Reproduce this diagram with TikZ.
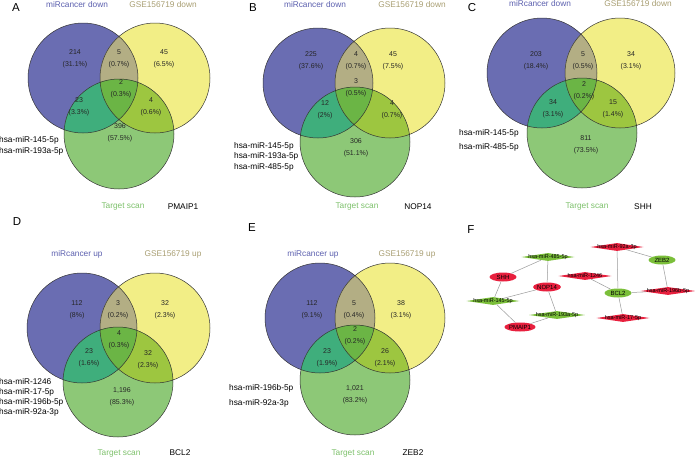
\documentclass[tikz,border=0pt]{standalone}
\usepackage{fontspec}
\setmainfont{Liberation Sans}
\usetikzlibrary{shapes.geometric}

\definecolor{vblue}{HTML}{6A6DB2}
\definecolor{vyellow}{HTML}{F2EE86}
\definecolor{vgreen}{HTML}{8DC877}
\definecolor{vby}{HTML}{B3AE84}
\definecolor{vbg}{HTML}{3FAE7C}
\definecolor{vyg}{HTML}{9DC640}
\definecolor{vall}{HTML}{6BB545}
\definecolor{tblue}{HTML}{5B5FAE}
\definecolor{ttan}{HTML}{A89E72}
\definecolor{tgreen}{HTML}{7CC06A}
\definecolor{netred}{HTML}{E8203E}
\definecolor{netgreen}{HTML}{7BBF3A}

\tikzset{
  ring/.style={draw=black!80,line width=0.5pt},
  setlbl/.style={font=\fontsize{8.3}{10}\selectfont,inner sep=0pt},
  cnt/.style={font=\fontsize{7}{11.5}\selectfont,align=center,text=black!85,inner sep=0pt},
  mirlist/.style={anchor=west,align=left,inner sep=0pt},
  panel/.style={font=\fontsize{11.5}{12}\selectfont,inner sep=0pt},
  netlbl/.style={font=\fontsize{5.5}{6}\selectfont,inner sep=0pt,text=black},
  mirred/.style={diamond,fill=netred,minimum width=53pt,minimum height=8pt,inner sep=0pt},
  mirgreen/.style={diamond,fill=netgreen,minimum width=53pt,minimum height=8pt,inner sep=0pt},
  genered/.style={ellipse,fill=netred,minimum width=27pt,minimum height=9pt,inner sep=0pt,font=\fontsize{6}{6}\selectfont},
  genegreen/.style={ellipse,fill=netgreen,minimum width=27pt,minimum height=9pt,inner sep=0pt,font=\fontsize{6}{6}\selectfont},
  netedge/.style={draw=black!40,line width=0.5pt}
}

% three circles: blue, yellow, green centres
\newcommand{\venntri}[3]{%
  \fill[vblue] (#1) circle (55pt);
  \fill[vyellow] (#2) circle (55pt);
  \fill[vgreen] (#3) circle (55pt);
  \begin{scope}\clip (#1) circle (55pt); \fill[vby] (#2) circle (55pt); \end{scope}
  \begin{scope}\clip (#1) circle (55pt); \fill[vbg] (#3) circle (55pt); \end{scope}
  \begin{scope}\clip (#2) circle (55pt); \fill[vyg] (#3) circle (55pt); \end{scope}
  \begin{scope}\clip (#1) circle (55pt); \clip (#2) circle (55pt); \fill[vall] (#3) circle (55pt); \end{scope}
  \draw[ring] (#1) circle (55pt) (#2) circle (55pt) (#3) circle (55pt);
}

\begin{document}
\begin{tikzpicture}[x=1pt,y=-1pt]
\useasboundingbox (0,0) rectangle (695,458);

% A
\venntri{83,78}{155,78}{119,134}
\node[panel] (pa) at (16,8) {A};
\node[setlbl,text=tblue] (a-set1) at (77,5) {miRcancer down};
\node[setlbl,text=ttan] (a-set2) at (163,5) {GSE156719 down};
\node[setlbl,text=tgreen] (a-set3) at (123,207) {Target scan};
\node[setlbl] (a-gene) at (183,207) {PMAIP1};
\node[cnt] (a1) at (75,59) {214\\(31.1\%)};
\node[cnt] (a2) at (119,59) {5\\(0.7\%)};
\node[cnt] (a3) at (164,59) {45\\(6.5\%)};
\node[cnt] (a4) at (121,89) {2\\(0.3\%)};
\node[cnt] (a5) at (79,107) {23\\(3.3\%)};
\node[cnt] (a6) at (151,107) {4\\(0.6\%)};
\node[cnt] (a7) at (120,133) {396\\(57.5\%)};
\node[mirlist,font=\fontsize{8.3}{11}\selectfont] (a-mir) at (-1,145.5) {hsa-miR-145-5p\\hsa-miR-193a-5p};

% B
\venntri{318,83}{390,83}{355,142}
\node[panel] (pb) at (253,8) {B};
\node[setlbl,text=tblue] (b-set1) at (315,5) {miRcancer down};
\node[setlbl,text=ttan] (b-set2) at (412,5) {GSE156719 down};
\node[setlbl,text=tgreen] (b-set3) at (357,207) {Target scan};
\node[setlbl] (b-gene) at (418,207) {NOP14};
\node[cnt] (b1) at (311,61) {225\\(37.6\%)};
\node[cnt] (b2) at (356,61) {4\\(0.7\%)};
\node[cnt] (b3) at (393,61) {45\\(7.5\%)};
\node[cnt] (b4) at (356,88) {3\\(0.5\%)};
\node[cnt] (b5) at (325,110) {12\\(2\%)};
\node[cnt] (b6) at (392,110) {4\\(0.7\%)};
\node[cnt] (b7) at (356,148) {306\\(51.1\%)};
\node[mirlist,font=\fontsize{8.3}{10.5}\selectfont] (b-mir) at (234,156.5) {hsa-miR-145-5p\\hsa-miR-193a-5p\\hsa-miR-485-5p};

% C
\venntri{542,73}{620,73}{582,133}
\node[panel] (pc) at (472,8) {C};
\node[setlbl,text=tblue] (c-set1) at (540,4) {miRcancer down};
\node[setlbl,text=ttan] (c-set2) at (638,4) {GSE156719 down};
\node[setlbl,text=tgreen] (c-set3) at (587,207) {Target scan};
\node[setlbl] (c-gene) at (643,207) {SHH};
\node[cnt] (c1) at (536,61) {203\\(18.4\%)};
\node[cnt] (c2) at (583,61) {5\\(0.5\%)};
\node[cnt] (c3) at (631,61) {34\\(3.1\%)};
\node[cnt] (c4) at (584,91) {2\\(0.2\%)};
\node[cnt] (c5) at (553,109) {34\\(3.1\%)};
\node[cnt] (c6) at (613,109) {15\\(1.4\%)};
\node[cnt] (c7) at (586,145) {811\\(73.5\%)};
\node[mirlist,font=\fontsize{8.3}{14}\selectfont] (c-mir) at (459,140) {hsa-miR-145-5p\\hsa-miR-485-5p};

% D
\venntri{82,328}{155,328}{118,382}
\node[panel] (pd) at (17,222) {D};
\node[setlbl,text=tblue] (d-set1) at (77,254) {miRcancer up};
\node[setlbl,text=ttan] (d-set2) at (173,254) {GSE156719 up};
\node[setlbl,text=tgreen] (d-set3) at (119,453) {Target scan};
\node[setlbl] (d-gene) at (180,453) {BCL2};
\node[cnt] (d1) at (77,310) {112\\(8\%)};
\node[cnt] (d2) at (118,310) {3\\(0.2\%)};
\node[cnt] (d3) at (165,310) {32\\(2.3\%)};
\node[cnt] (d4) at (119,340) {4\\(0.3\%)};
\node[cnt] (d5) at (89,358) {23\\(1.6\%)};
\node[cnt] (d6) at (148,360) {32\\(2.3\%)};
\node[cnt] (d7) at (122,397) {1,196\\(85.3\%)};
\node[mirlist,font=\fontsize{8.3}{10}\selectfont] (d-mir) at (-1,397) {hsa-miR-1246\\hsa-miR-17-5p\\hsa-miR-196b-5p\\hsa-miR-92a-3p};

% E
\venntri{320,318}{390,318}{355,380}
\node[panel] (pe) at (252,228) {E};
\node[setlbl,text=tblue] (e-set1) at (313,254) {miRcancer up};
\node[setlbl,text=ttan] (e-set2) at (407,254) {GSE156719 up};
\node[setlbl,text=tgreen] (e-set3) at (353,453) {Target scan};
\node[setlbl] (e-gene) at (413,453) {ZEB2};
\node[cnt] (e1) at (312,310) {112\\(9.1\%)};
\node[cnt] (e2) at (354,310) {5\\(0.4\%)};
\node[cnt] (e3) at (401,310) {38\\(3.1\%)};
\node[cnt] (e4) at (355,336) {2\\(0.2\%)};
\node[cnt] (e5) at (327,358) {23\\(1.9\%)};
\node[cnt] (e6) at (385,358) {26\\(2.1\%)};
\node[cnt] (e7) at (355,395) {1,021\\(83.2\%)};
\node[mirlist,font=\fontsize{8.3}{15}\selectfont] (e-mir) at (229,395.5) {hsa-miR-196b-5p\\hsa-miR-92a-3p};

% F
\node[panel] (pf) at (471,230) {F};
\node[mirgreen,label={[netlbl]center:hsa-miR-485-5p}] (m485) at (548,257) {};
\node[genered] (shh) at (503,277) {SHH};
\node[genered] (nop14) at (547,287) {NOP14};
\node[mirgreen,label={[netlbl]center:hsa-miR-145-5p}] (m145) at (493,301) {};
\node[mirgreen,minimum width=56pt,label={[netlbl]center:hsa-miR-193a-5p}] (m193a) at (557,315) {};
\node[genered] (pmaip1) at (520,327) {PMAIP1};
\node[mirred,label={[netlbl]center:hsa-miR-92a-3p}] (m92a) at (617,247) {};
\node[genegreen] (zeb2) at (662,260) {ZEB2};
\node[mirred,label={[netlbl]center:hsa-miR-1246}] (m1246) at (585,276) {};
\node[genegreen] (bcl2) at (618,293) {BCL2};
\node[mirred,minimum width=55pt,label={[netlbl]center:hsa-miR-196b-5p}] (m196b) at (668,291) {};
\node[mirred,label={[netlbl]center:hsa-miR-17-5p}] (m17) at (623,318) {};
\draw[netedge] (m485) -- (shh);
\draw[netedge] (m485) -- (nop14);
\draw[netedge] (shh) -- (m145);
\draw[netedge] (m145) -- (nop14);
\draw[netedge] (nop14) -- (m193a);
\draw[netedge] (m145) -- (pmaip1);
\draw[netedge] (m193a) -- (pmaip1);
\draw[netedge] (m92a) -- (zeb2);
\draw[netedge] (m92a) -- (bcl2);
\draw[netedge] (m1246) -- (bcl2);
\draw[netedge] (bcl2) -- (m196b);
\draw[netedge] (bcl2) -- (m17);
\draw[netedge] (zeb2) -- (m196b);
\end{tikzpicture}
\end{document}
